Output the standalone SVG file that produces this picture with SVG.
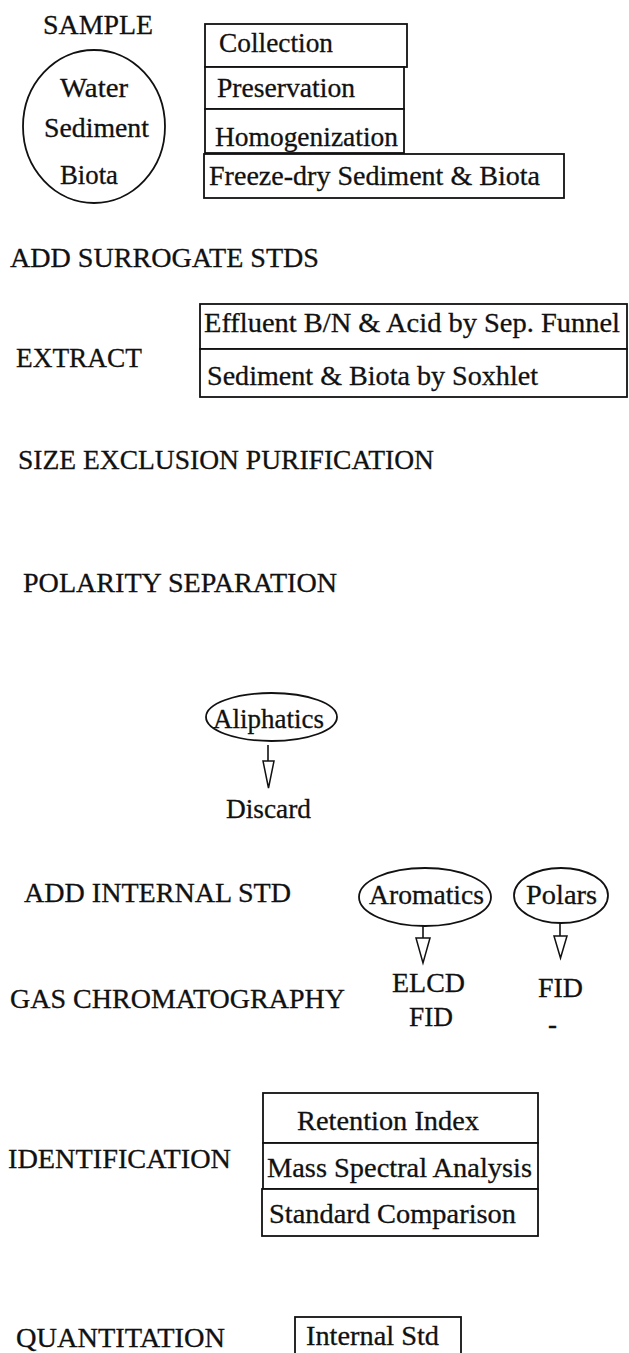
<svg xmlns="http://www.w3.org/2000/svg" width="629" height="1353" viewBox="0 0 629 1353">
<style>
text{font-family:"Liberation Serif","Times New Roman",serif;font-size:27.5px;fill:#111;stroke:#111;stroke-width:0.3}
.box{fill:#fff;stroke:#111;stroke-width:1.8}
.ell{fill:#fff;stroke:#111;stroke-width:1.8}
.ln{stroke:#111;stroke-width:1.6;fill:none}
.hd{fill:#fff;stroke:#111;stroke-width:1.5;stroke-linejoin:miter}
</style>
<rect width="629" height="1353" fill="#fff"/>
<g id="labels">
<text x="43" y="34" textLength="110" lengthAdjust="spacingAndGlyphs">SAMPLE</text>
<text x="10" y="267" textLength="309" lengthAdjust="spacingAndGlyphs">ADD SURROGATE STDS</text>
<text x="16" y="367" textLength="126" lengthAdjust="spacingAndGlyphs">EXTRACT</text>
<text x="18" y="469" textLength="416" lengthAdjust="spacingAndGlyphs">SIZE EXCLUSION PURIFICATION</text>
<text x="23" y="592" textLength="314" lengthAdjust="spacingAndGlyphs">POLARITY SEPARATION</text>
<text x="24" y="902" textLength="267" lengthAdjust="spacingAndGlyphs">ADD INTERNAL STD</text>
<text x="10" y="1008" textLength="335" lengthAdjust="spacingAndGlyphs">GAS CHROMATOGRAPHY</text>
<text x="8" y="1168" textLength="223" lengthAdjust="spacingAndGlyphs">IDENTIFICATION</text>
<text x="16" y="1347" textLength="209" lengthAdjust="spacingAndGlyphs">QUANTITATION</text>
</g>
<g id="sample">
<ellipse class="ell" cx="94" cy="126.5" rx="71" ry="76.5"/>
<text x="60" y="97" textLength="68" lengthAdjust="spacingAndGlyphs">Water</text>
<text x="44" y="137" textLength="105" lengthAdjust="spacingAndGlyphs">Sediment</text>
<text x="60" y="184" textLength="58" lengthAdjust="spacingAndGlyphs">Biota</text>
</g>
<g id="prep">
<rect class="box" x="205" y="24" width="202" height="43"/>
<text x="219" y="52" textLength="114" lengthAdjust="spacingAndGlyphs">Collection</text>
<rect class="box" x="205" y="67" width="199" height="42"/>
<text x="217" y="97" textLength="138" lengthAdjust="spacingAndGlyphs">Preservation</text>
<rect class="box" x="205" y="109" width="199" height="44"/>
<text x="215" y="146" textLength="183" lengthAdjust="spacingAndGlyphs">Homogenization</text>
<rect class="box" x="204" y="154" width="360" height="44"/>
<text x="209" y="185" textLength="331" lengthAdjust="spacingAndGlyphs">Freeze-dry Sediment &amp; Biota</text>
</g>
<g id="extract">
<rect class="box" x="200" y="304" width="427" height="45"/>
<text x="204" y="332" textLength="416" lengthAdjust="spacingAndGlyphs">Effluent B/N &amp; Acid by Sep. Funnel</text>
<rect class="box" x="200" y="349" width="427" height="48"/>
<text x="207" y="385" textLength="331" lengthAdjust="spacingAndGlyphs">Sediment &amp; Biota by Soxhlet</text>
</g>
<g id="aliphatics">
<ellipse class="ell" cx="271.5" cy="717" rx="65.5" ry="24"/>
<text x="213" y="728" textLength="111" lengthAdjust="spacingAndGlyphs">Aliphatics</text>
</g>
<g id="discard">
<text x="226" y="818" textLength="85" lengthAdjust="spacingAndGlyphs">Discard</text>
</g>
<g id="aromatics">
<ellipse class="ell" cx="425" cy="897" rx="66" ry="29"/>
<text x="369" y="904" textLength="115" lengthAdjust="spacingAndGlyphs">Aromatics</text>
</g>
<g id="polars">
<ellipse class="ell" cx="561" cy="895.5" rx="47" ry="27.5"/>
<text x="526" y="904" textLength="71" lengthAdjust="spacingAndGlyphs">Polars</text>
</g>
<g id="detectors-aromatics">
<text x="392" y="992" textLength="73" lengthAdjust="spacingAndGlyphs">ELCD</text>
<text x="409" y="1026" textLength="44" lengthAdjust="spacingAndGlyphs">FID</text>
</g>
<g id="detectors-polars">
<text x="538" y="997" textLength="45" lengthAdjust="spacingAndGlyphs">FID</text>
<text x="548" y="1033" textLength="9" lengthAdjust="spacingAndGlyphs">-</text>
</g>
<g id="identification">
<rect class="box" x="263" y="1093" width="275" height="50"/>
<text x="297" y="1130" textLength="182" lengthAdjust="spacingAndGlyphs">Retention Index</text>
<rect class="box" x="263" y="1143" width="275" height="46"/>
<text x="267" y="1177" textLength="265" lengthAdjust="spacingAndGlyphs">Mass Spectral Analysis</text>
<rect class="box" x="262" y="1189" width="276" height="47"/>
<text x="269" y="1223" textLength="247" lengthAdjust="spacingAndGlyphs">Standard Comparison</text>
</g>
<g id="quantitation">
<rect class="box" x="295" y="1317" width="166" height="45"/>
<text x="306" y="1345" textLength="133" lengthAdjust="spacingAndGlyphs">Internal Std</text>
</g>
<g id="connectors">
<line class="ln" x1="268" y1="745" x2="268" y2="761"/>
<polygon class="hd" points="263,761 274,761 268.5,788"/>
<line class="ln" x1="423" y1="926" x2="423" y2="938"/>
<polygon class="hd" points="416,938 430,938 423,963"/>
<line class="ln" x1="560" y1="923" x2="560" y2="936"/>
<polygon class="hd" points="554,936 567,936 560.5,958"/>
</g>
</svg>
